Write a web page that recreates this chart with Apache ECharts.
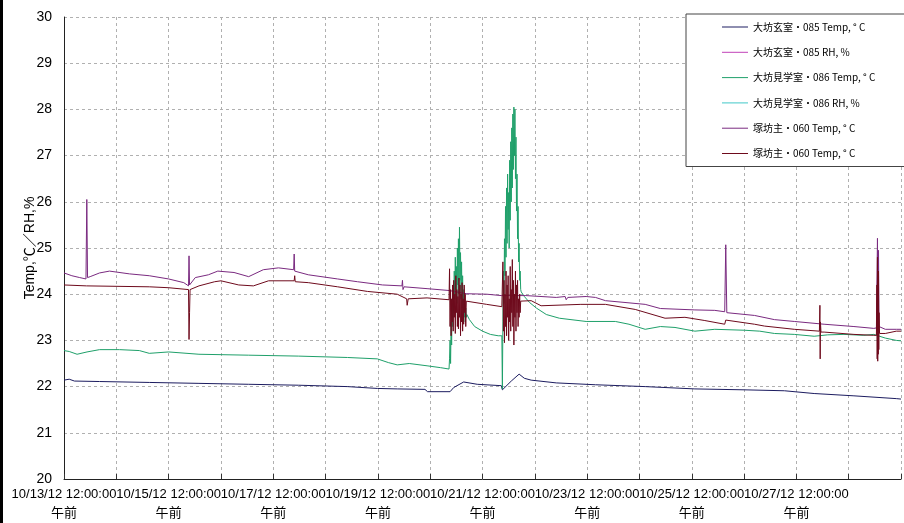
<!DOCTYPE html>
<html>
<head>
<meta charset="utf-8">
<script src="https://cdn.jsdelivr.net/npm/echarts@6/dist/echarts.min.js"></script>
<style>html,body{margin:0;padding:0;background:#fff}#c{width:904px;height:523px}</style>
</head>
<body>
<div id="c"></div>
<script>
// x values: days since 10/13/12 12:00:00 午前
const tickLabels = ['10/13/12 12:00:00','10/15/12 12:00:00','10/17/12 12:00:00','10/19/12 12:00:00','10/21/12 12:00:00','10/23/12 12:00:00','10/25/12 12:00:00','10/27/12 12:00:00'];
const ampm = '午前';
const seriesNames = ['大坊玄室・085 Temp, ° C','大坊玄室・085 RH, %','大坊見学室・086 Temp, ° C','大坊見学室・086 RH, %','塚坊主・060 Temp, ° C','塚坊主・060 Temp, ° C\u200b'];

const temp085 = [[0,22.14],[0.1,22.16],[0.2,22.12],[0.68,22.11],[1.63,22.09],[2.58,22.07],[3.53,22.05],[4.48,22.03],[5.42,22.0],[5.99,21.96],[6.37,21.95],[6.9,21.94],[6.95,21.89],[7.38,21.89],[7.45,21.98],[7.64,22.1],[7.9,22.05],[8.36,22.02],[8.38,21.93],[8.55,22.12],[8.70,22.27],[8.8,22.18],[8.93,22.14],[9.41,22.08],[10.16,22.04],[11.11,22.0],[11.68,21.97],[12.06,21.95],[13.01,21.93],[13.77,21.91],[14.34,21.85],[15.10,21.80],[15.91,21.74],[16,21.73]];

const rh085 = [];
const rh086 = [];

const temp086 = [[0,22.78],[0.1,22.76],[0.25,22.7],[0.44,22.75],[0.68,22.8],[1.06,22.8],[1.44,22.78],[1.63,22.72],[2.0,22.75],[2.58,22.7],[3.53,22.68],[4.48,22.66],[5.42,22.63],[5.99,22.6],[6.2,22.52],[6.37,22.47],[6.6,22.5],[6.94,22.45],[7.2,22.41],[7.36,22.38],
[7.37,22.6],[7.38,23.0],[7.39,22.5],[7.40,23.4],[7.41,22.9],[7.42,23.8],[7.43,23.3],[7.44,24.2],[7.45,23.6],[7.46,24.5],[7.47,23.9],[7.48,24.8],[7.49,24.1],[7.50,24.6],[7.51,23.8],[7.52,25.0],[7.53,24.2],[7.54,25.2],[7.55,24.0],[7.56,25.45],[7.57,24.3],[7.58,24.9],[7.59,23.9],[7.60,24.7],[7.61,23.7],[7.62,24.4],[7.63,23.6],[7.64,24.1],[7.65,23.5],[7.66,23.9],[7.67,23.4],[7.68,23.7],[7.69,23.5],[7.70,23.56],
[7.75,23.45],[7.85,23.3],[8.0,23.2],[8.15,23.13],[8.3,23.1],[8.37,23.1],
[8.38,21.95],[8.39,23.4],[8.40,24.5],[8.41,23.8],[8.42,25.2],[8.43,24.4],[8.44,25.9],[8.45,24.8],[8.46,26.3],[8.47,25.1],[8.48,26.6],[8.49,25.4],[8.50,26.2],[8.51,25.0],[8.52,26.9],[8.53,25.6],[8.54,27.3],[8.55,26.0],[8.56,27.6],[8.57,26.3],[8.58,27.9],[8.59,26.7],[8.60,28.05],[8.61,27.0],[8.62,28.0],[8.63,26.5],[8.64,27.4],[8.65,25.8],[8.66,26.6],[8.67,25.2],[8.68,25.9],[8.69,24.7],[8.70,25.1],[8.71,24.3],[8.72,24.5],[8.73,24.1],[8.74,24.05],
[8.8,23.95],[8.9,23.82],[9.03,23.7],[9.22,23.56],[9.47,23.48],[9.98,23.41],[10.54,23.41],[10.8,23.35],[11.11,23.24],[11.4,23.3],[11.68,23.28],[12.06,23.2],[12.44,23.24],[13.01,23.22],[13.3,23.2],[13.58,23.15],[13.96,23.13],[14.34,23.09],[14.6,23.12],[14.91,23.13],[15.29,23.11],[15.48,23.13],[15.7,23.05],[15.91,23.0],[16,22.99]];

const temp060a = [[0,24.46],[0.15,24.4],[0.3,24.36],[0.42,24.33],[0.436,26.05],[0.45,24.36],[0.5,24.38],[0.68,24.46],[0.87,24.5],[1.25,24.44],[1.63,24.4],[2.0,24.33],[2.29,24.25],[2.38,24.18],[2.39,24.83],[2.40,24.2],[2.51,24.36],[2.76,24.42],[2.94,24.5],[3.25,24.47],[3.53,24.38],[3.81,24.53],[4.1,24.57],[4.39,24.53],[4.40,24.87],[4.41,24.5],[4.67,24.42],[5.23,24.33],[5.61,24.27],[6.09,24.2],[6.46,24.18],[6.47,24.3],[6.48,24.1],[6.5,24.16],[6.94,24.12],[7.36,24.08],[7.7,24.01],[8.08,24.0],[8.36,23.97],[8.83,23.97],[9.41,23.93],[9.58,23.95],[9.6,23.88],[9.63,23.93],[9.98,23.95],[10.16,23.93],[10.35,23.86],[11.11,23.78],[11.4,23.69],[12.06,23.66],[12.44,23.65],[12.63,23.62],[12.65,25.07],[12.67,23.6],[13.2,23.54],[13.58,23.45],[13.96,23.41],[14.53,23.35],[15.1,23.3],[15.48,23.26],[15.53,23.27],[15.55,25.21],[15.56,23.5],[15.57,24.95],[15.58,23.3],[15.7,23.24],[15.91,23.24],[16,23.24]];

const temp060b = [[0,24.2],[0.43,24.18],[0.44,24.21],[1.63,24.16],[2.0,24.14],[2.38,24.1],[2.39,23.02],[2.40,23.6],[2.41,24.1],[2.58,24.18],[2.88,24.27],[3.0,24.29],[3.34,24.2],[3.62,24.18],[3.91,24.29],[4.4,24.29],[4.41,24.4],[4.42,24.27],[4.67,24.25],[5.23,24.16],[5.8,24.06],[6.37,24.0],[6.55,23.9],[6.56,23.76],[6.58,23.9],[6.94,23.92],[7.36,23.88],
[7.37,24.55],[7.38,23.3],[7.39,24.1],[7.40,23.1],[7.41,23.9],[7.42,23.4],[7.43,24.2],[7.44,23.2],[7.45,24.3],[7.46,23.5],[7.47,24.0],[7.48,23.15],[7.49,24.4],[7.50,23.6],[7.51,24.1],[7.52,23.3],[7.53,23.95],[7.54,23.25],[7.55,24.35],[7.56,23.5],[7.57,24.2],[7.58,23.1],[7.59,24.0],[7.60,23.4],[7.61,24.25],[7.62,23.2],[7.63,23.9],[7.64,23.35],[7.65,24.2],[7.66,23.6],[7.67,24.0],[7.68,23.3],[7.69,23.85],[7.70,23.82],
[8.08,23.78],[8.37,23.73],
[8.38,23.73],[8.39,24.7],[8.40,23.2],[8.41,24.3],[8.42,22.95],[8.43,24.0],[8.44,23.3],[8.45,24.5],[8.46,23.1],[8.47,24.2],[8.48,23.5],[8.49,24.4],[8.50,23.0],[8.51,23.9],[8.52,23.4],[8.53,24.6],[8.54,23.2],[8.55,24.1],[8.56,23.6],[8.57,24.75],[8.58,23.3],[8.59,24.3],[8.60,22.9],[8.61,24.0],[8.62,23.5],[8.63,24.5],[8.64,23.2],[8.65,24.2],[8.66,23.6],[8.67,24.3],[8.68,23.3],[8.69,23.9],[8.70,23.5],[8.71,24.0],[8.72,23.6],[8.73,23.85],[8.74,23.82],
[8.93,23.86],[9.12,23.75],[9.88,23.78],[10.35,23.78],[10.92,23.67],[11.49,23.48],[11.87,23.5],[12.25,23.43],[12.63,23.35],[12.65,23.44],[13.2,23.35],[13.39,23.31],[13.96,23.24],[14.44,23.2],[14.45,23.76],[14.455,22.6],[14.46,23.4],[14.47,23.18],[14.53,23.18],[15.1,23.13],[15.48,23.11],[15.53,23.11],[15.54,24.2],[15.545,22.6],[15.55,24.8],[15.555,22.55],[15.56,24.0],[15.565,22.7],[15.57,24.5],[15.575,22.8],[15.58,23.6],[15.59,23.15],[15.7,23.15],[15.91,23.2],[16,23.2]];

const colors = ['#1c1c60','#c040b8','#1fa06a','#40c8c8','#7a2a80','#6e0a1c'];
const seriesData = [temp085, rh085, temp086, rh086, temp060a, temp060b];

const font = "'Liberation Sans', 'Noto Sans CJK JP', sans-serif";
const chart = echarts.init(document.getElementById('c'), null, {renderer: 'canvas'});
chart.setOption({
  animation: false,
  backgroundColor: '#fff',
  color: colors,
  grid: {left: 64, top: 17, bottom: 40, right: -4, containLabel: false},
  legend: {
    orient: 'vertical', left: 686, top: 14,
    padding: [8, 40, 8, 36], itemGap: 15.3, itemWidth: 26, itemHeight: 1,
    icon: 'rect',
    backgroundColor: '#fff', borderColor: '#444', borderWidth: 1,
    selectedMode: false,
    textStyle: {fontSize: 10, lineHeight: 10, color: '#000', fontFamily: "'Noto Sans CJK JP', sans-serif"},
    data: seriesNames
  },
  xAxis: {
    type: 'value', min: 0, max: 16, interval: 1,
    axisLine: {lineStyle: {color: '#222', width: 1}},
    axisTick: {inside: true, length: 5, lineStyle: {color: '#333'}},
    splitLine: {show: true, lineStyle: {color: '#b0b0b0', type: [3, 3], width: 1}},
    axisLabel: {
      margin: 6, fontSize: 13, color: '#000', fontFamily: font, lineHeight: 19,
      formatter: function (v) {
        const i = Math.round(v);
        if (i % 2 !== 0 || i / 2 >= tickLabels.length) return '';
        return tickLabels[i / 2] + '\n' + ampm;
      }
    }
  },
  yAxis: {
    type: 'value', min: 20, max: 30, interval: 1,
    name: 'Temp,℃／RH,%', nameLocation: 'middle', nameGap: 27, nameMoveOverlap: false,
    nameTextStyle: {fontSize: 14, color: '#000', fontFamily: font},
    axisLine: {show: true, lineStyle: {color: '#222', width: 1}},
    axisTick: {show: false},
    splitLine: {show: true, lineStyle: {color: '#b0b0b0', type: [3, 3], width: 1}},
    axisLabel: {margin: 12, fontSize: 14, color: '#000', fontFamily: font}
  },
  graphic: [{type: 'rect', left: 0, top: 0, shape: {width: 3, height: 523}, style: {fill: '#000'}, z: 100}],
  series: seriesNames.map(function (n, k) {
    return {
      name: n, type: 'line', data: seriesData[k], symbol: 'none', showSymbol: false,
      lineStyle: {width: 1, color: colors[k]}, itemStyle: {color: colors[k]},
      z: k === 5 ? 5 : 2
    };
  })
});
</script>
</body>
</html>
